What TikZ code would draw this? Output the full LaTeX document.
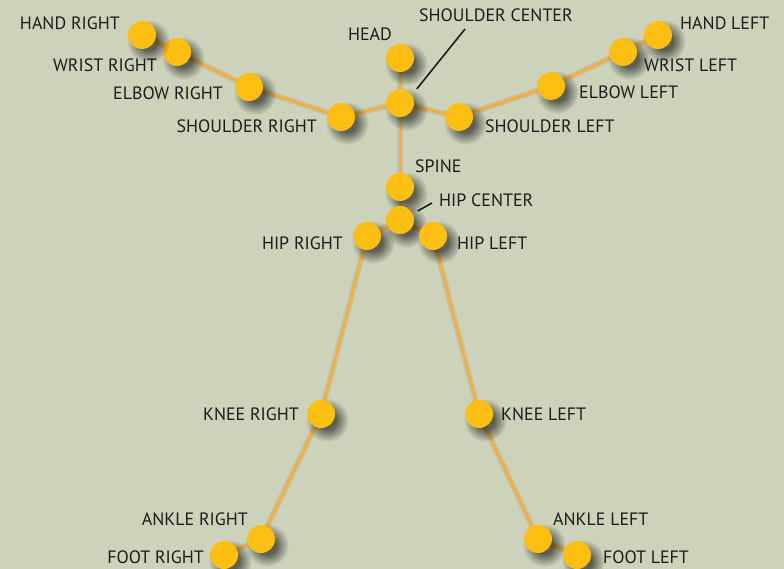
\documentclass[tikz,border=0pt]{standalone}
\usepackage{fontspec}
\setmainfont{PT Sans}
\usetikzlibrary{shadows,fadings,calc}

\definecolor{bgcol}{RGB}{205,211,187}
\definecolor{jointcol}{RGB}{253,191,18}
\definecolor{bonecol}{RGB}{246,174,62}
\definecolor{txtcol}{RGB}{28,28,26}

% soft round fading for the joint shadows
\pgfdeclareradialshading{softshade}{\pgfpoint{0bp}{0bp}}{color(0bp)=(white); color(10bp)=(white); color(25bp)=(black); color(50bp)=(black)}
\pgfdeclarefading{softfade}{\pgfuseshading{softshade}}

\begin{document}
\begin{tikzpicture}[x=1pt,y=-1pt,
  joint/.style={circle,fill=jointcol,minimum size=28pt,inner sep=0pt,
    general shadow={shadow xshift=4pt,shadow yshift=-4pt,shadow scale=1.55,
      fill=black,opacity=0.55,path fading=softfade,fit fading=true}},
  bone/.style={draw=bonecol,line width=3pt},
  boneshadow/.style={draw=black,opacity=0.07,line width=6pt,shift={(2pt,3pt)}},
  lbl/.style={font=\fontsize{17.9}{17.9}\selectfont,text=txtcol,inner sep=0pt},
  leader/.style={draw=txtcol,line width=1.6pt}]
\fill[bgcol] (0,0) rectangle (784,569);
\useasboundingbox (0,0) rectangle (784,569);
% joints
\coordinate (pHead) at (400,58);
\coordinate (pShC) at (400,103);
\coordinate (pShR) at (341,117);
\coordinate (pElR) at (249,87);
\coordinate (pWrR) at (177,52);
\coordinate (pHaR) at (142,35);
\coordinate (pShL) at (459,117);
\coordinate (pElL) at (551,86);
\coordinate (pWrL) at (623,52);
\coordinate (pHaL) at (658,35);
\coordinate (pSpine) at (400,187);
\coordinate (pHipC) at (400,220);
\coordinate (pHipR) at (367,236);
\coordinate (pHipL) at (433,236);
\coordinate (pKnR) at (321,414);
\coordinate (pKnL) at (479,414);
\coordinate (pAnR) at (261,539);
\coordinate (pAnL) at (538,539);
\coordinate (pFtR) at (224,555);
\coordinate (pFtL) at (577,555);
% bones (shadow, then line)
\foreach \st in {boneshadow,bone}{
  \draw[\st] (pHaR) -- (pWrR) -- (pElR) -- (pShR) -- (pShC) -- (pShL) -- (pElL) -- (pWrL) -- (pHaL);
  \draw[\st] (pHead) -- (pShC) -- (pSpine) -- (pHipC);
  \draw[\st] (pFtR) -- (pAnR) -- (pKnR) -- (pHipR) -- (pHipC) -- (pHipL) -- (pKnL) -- (pAnL) -- (pFtL);
}
\foreach \j in {Head,ShC,ShR,ElR,WrR,HaR,ShL,ElL,WrL,HaL,Spine,HipC,HipR,HipL,KnR,KnL,AnR,AnL,FtR,FtL}
  \node[joint] (\j) at (p\j) {};
% labels
\node[lbl,anchor=east] (lHaR) at (120,23) {HAND RIGHT};
\node[lbl,anchor=east] (lWrR) at (157,65) {WRIST RIGHT};
\node[lbl,anchor=east] (lElR) at (223,93) {ELBOW RIGHT};
\node[lbl,anchor=east] (lShR) at (317,126) {SHOULDER RIGHT};
\node[lbl,anchor=east] (lHead) at (392,34) {HEAD};
\node[lbl,anchor=west] (lShC) at (419,15) {SHOULDER CENTER};
\node[lbl,anchor=west] (lShL) at (485,126) {SHOULDER LEFT};
\node[lbl,anchor=west] (lElL) at (579,92) {ELBOW LEFT};
\node[lbl,anchor=west] (lWrL) at (644,65) {WRIST LEFT};
\node[lbl,anchor=west] (lHaL) at (680,23) {HAND LEFT};
\node[lbl,anchor=west] (lSpine) at (415,166) {SPINE};
\node[lbl,anchor=west] (lHipC) at (439,200) {HIP CENTER};
\node[lbl,anchor=east] (lHipR) at (343,243) {HIP RIGHT};
\node[lbl,anchor=west] (lHipL) at (457,243) {HIP LEFT};
\node[lbl,anchor=east] (lKnR) at (299,414) {KNEE RIGHT};
\node[lbl,anchor=west] (lKnL) at (501,414) {KNEE LEFT};
\node[lbl,anchor=east] (lAnR) at (248,519) {ANKLE RIGHT};
\node[lbl,anchor=west] (lAnL) at (553,519) {ANKLE LEFT};
\node[lbl,anchor=east] (lFtR) at (204,557) {FOOT RIGHT};
\node[lbl,anchor=west] (lFtL) at (603,557) {FOOT LEFT};
% leader lines
\coordinate (qShC) at (465,29);
\coordinate (qHipC) at (432,203);
\draw[leader] (qShC) -- ($(ShC.center)+(-40:22)$);
\draw[leader] (qHipC) -- ($(HipC.center)+(-27:20)$);
\end{tikzpicture}
\end{document}
